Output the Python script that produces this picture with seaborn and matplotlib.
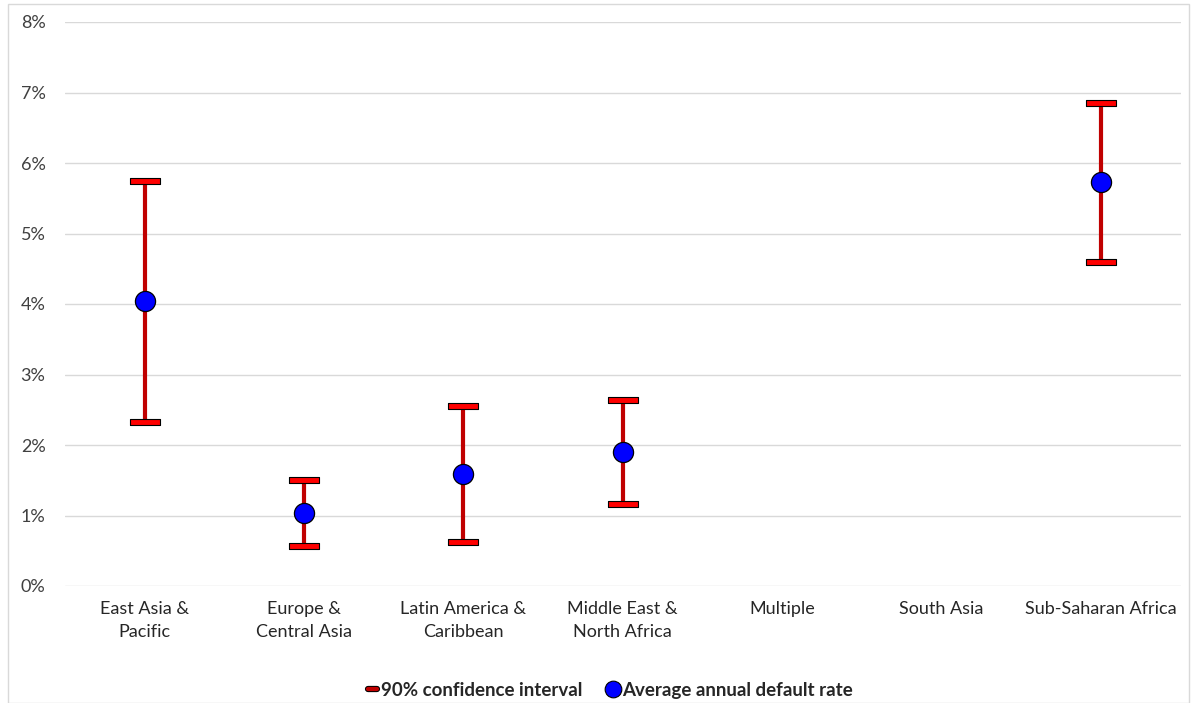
import numpy as np
import pandas as pd
import matplotlib
matplotlib.use("Agg")
import matplotlib.pyplot as plt
import seaborn as sns
from matplotlib.lines import Line2D
from matplotlib.patches import Rectangle
from matplotlib.ticker import FuncFormatter
import matplotlib.patheffects as pe

categories = ["East Asia &\nPacific", "Europe &\nCentral Asia", "Latin America &\nCaribbean",
              "Middle East &\nNorth Africa", "Multiple", "South Asia", "Sub-Saharan Africa"]
mean_rate = [4.04, 1.04, 1.59, 1.90, np.nan, np.nan, 5.73]
ci_upper = [5.75, 1.50, 2.55, 2.64, np.nan, np.nan, 6.85]
ci_lower = [2.33, 0.57, 0.62, 1.16, np.nan, np.nan, 4.60]
yticks = [0, 1, 2, 3, 4, 5, 6, 7, 8]

sns.set_theme(style="white")
plt.rcParams['font.family'] = ['Lato', 'DejaVu Sans']

df = pd.DataFrame({"region": categories, "mean": mean_rate,
                   "upper": ci_upper, "lower": ci_lower})

fig = plt.figure(figsize=(11.99, 7.03), dpi=100)
ax = fig.add_axes([65/1199, 1 - 586/703, (1180.6 - 65)/1199, (586 - 22)/703])

# vertical CI lines
xs = np.arange(len(categories))
ax.vlines(xs, df["lower"], df["upper"], color="#C00000", lw=3, zorder=3)

cap = [(-1, -0.21), (1, -0.21), (1, 0.21), (-1, 0.21), (-1, -0.21)]
for col in ["upper", "lower"]:
    sns.stripplot(data=df, x="region", y=col, order=categories, jitter=False,
                  marker=cap, size=21.6, color="#FF0000", edgecolor="black",
                  linewidth=0.8, ax=ax, zorder=4)
sns.stripplot(data=df, x="region", y="mean", order=categories, jitter=False,
              marker="o", size=14.5, color="#0000FF", edgecolor="black",
              linewidth=0.9, ax=ax, zorder=5)

ax.set_xlim(-0.5, len(categories) - 0.5)
ax.set_ylim(0, 8)
ax.set_yticks(yticks)
ax.yaxis.set_major_formatter(FuncFormatter(lambda v, p: f"{v:.0f}%"))
ax.grid(axis="y", color="#D9D9D9", lw=1)
ax.set_axisbelow(True)
for s in ax.spines.values():
    s.set_visible(False)
ax.set_xlabel("")
ax.set_ylabel("")
ax.tick_params(axis="y", length=0, pad=14, labelsize=13, labelcolor="#404040")
ax.tick_params(axis="x", length=0, pad=11, labelsize=13, labelcolor="#262626")
for t in ax.get_xticklabels():
    t.set_linespacing(1.55)

h1 = Line2D([], [], color="#C00000", lw=3,
            path_effects=[pe.Stroke(linewidth=4.5, foreground="black"), pe.Normal()])
h2 = Line2D([], [], ls="none", marker="o", markersize=12, markerfacecolor="#0000FF",
            markeredgecolor="black", markeredgewidth=0.8)
fig.legend([h1, h2], ["90% confidence interval", "Average annual default rate"],
           loc="center", bbox_to_anchor=(0.509, 0.018), ncol=2, frameon=False,
           handlelength=0.5, handletextpad=0.2, columnspacing=1.4,
           prop={"weight": "bold", "size": 13.5})

fig.patches.append(Rectangle((8/1199, 0), 1181/1199, 699/703, transform=fig.transFigure,
                             fill=False, edgecolor="#D9D9D9", lw=1))

fig.savefig("out.png", dpi=100)
